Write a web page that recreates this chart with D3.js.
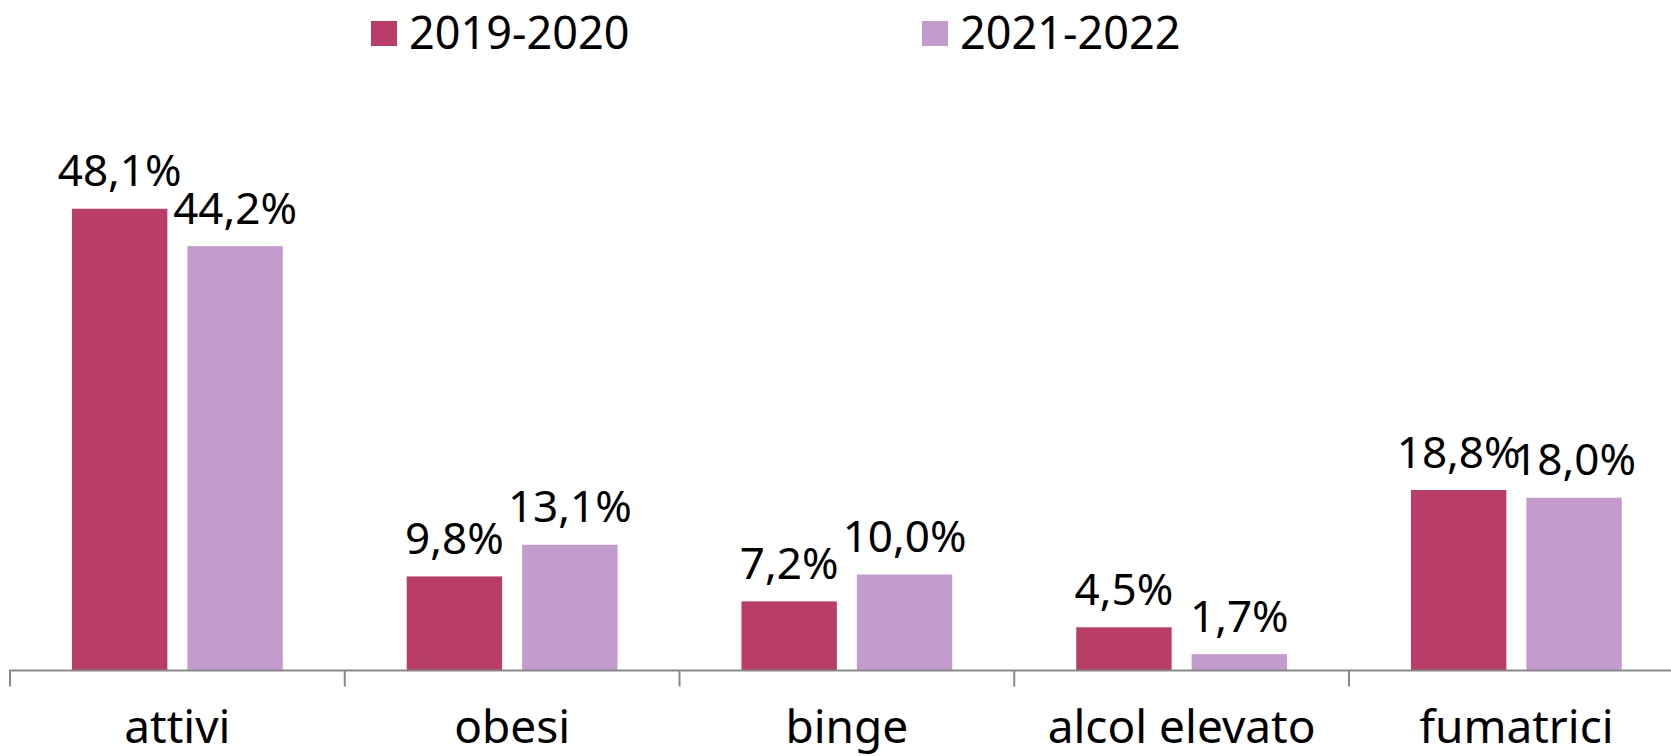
<!DOCTYPE html>
<html>
<head>
<meta charset="utf-8">
<script src="https://cdn.jsdelivr.net/npm/d3@7/dist/d3.min.js"></script>
<style>
  html, body { margin: 0; padding: 0; background: #fff; }
  svg { display: block; font-family: "Noto Sans", "Open Sans", sans-serif; }
</style>
</head>
<body>
<div id="chart"></div>
<script>
// dati
const categories = ['attivi', 'obesi', 'binge', 'alcol elevato', 'fumatrici'];
const seriesNames = ['2019-2020', '2021-2022'];
const values2019 = [48.1, 9.8, 7.2, 4.5, 18.8];
const values2021 = [44.2, 13.1, 10.0, 1.7, 18.0];
const seriesColors = ['#B93D68', '#C39BCC'];

const width = 1671, height = 756;

const svg = d3.select('#chart')
    .append('svg')
    .attr('width', width)
    .attr('height', height);

const rows = categories.map((c, i) => ({
    cat: c,
    vals: [values2019[i], values2021[i]]
}));

// scale
const x = d3.scaleBand()
    .domain(categories)
    .range([10, 10 + 5 * 334.75])
    .paddingInner(0)
    .paddingOuter(0);

const xs = d3.scaleBand()
    .domain(seriesNames)
    .range([0, x.bandwidth()])
    .paddingInner(0.1733)
    .paddingOuter(0.537);

const y = d3.scaleLinear()
    .domain([0, 50])
    .range([670.5, 190.5]);

// barre
const groups = svg.selectAll('g.cat')
    .data(rows)
    .enter()
    .append('g')
    .attr('class', 'cat')
    .attr('transform', d => `translate(${x(d.cat)},0)`);

groups.selectAll('rect')
    .data(d => d.vals.map((v, j) => ({s: seriesNames[j], v: v, j: j})))
    .enter()
    .append('rect')
    .attr('x', d => xs(d.s))
    .attr('y', d => y(d.v))
    .attr('width', xs.bandwidth())
    .attr('height', d => y(0) - y(d.v))
    .attr('fill', d => seriesColors[d.j]);

// etichette valori
groups.selectAll('text.val')
    .data(d => d.vals.map((v, j) => ({s: seriesNames[j], v: v})))
    .enter()
    .append('text')
    .attr('class', 'val')
    .attr('x', d => xs(d.s) + xs.bandwidth() / 2)
    .attr('y', d => y(d.v) - 22.5)
    .attr('text-anchor', 'middle')
    .attr('fill', '#000')
    .style('font-size', '44px')
    .text(d => d.v.toFixed(1).replace('.', ',') + '%');

// asse
const axisColor = '#898989';
svg.append('line')
    .attr('x1', 9)
    .attr('x2', width)
    .attr('y1', y(0))
    .attr('y2', y(0))
    .attr('stroke', axisColor)
    .attr('stroke-width', 2);

svg.selectAll('line.tick')
    .data(categories)
    .enter()
    .append('line')
    .attr('class', 'tick')
    .attr('x1', d => x(d))
    .attr('x2', d => x(d))
    .attr('y1', y(0))
    .attr('y2', y(0) + 16)
    .attr('stroke', axisColor)
    .attr('stroke-width', 2);

svg.selectAll('text.cat-label')
    .data(categories)
    .enter()
    .append('text')
    .attr('class', 'cat-label')
    .attr('x', d => x(d) + x.bandwidth() / 2)
    .attr('y', 743)
    .attr('text-anchor', 'middle')
    .attr('fill', '#000')
    .style('font-size', '46px')
    .text(d => d);

// legenda
const legendX = [371, 922];
const legend = svg.selectAll('g.legend')
    .data(seriesNames)
    .enter()
    .append('g')
    .attr('class', 'legend')
    .attr('transform', (d, i) => `translate(${legendX[i]},21)`);

legend.append('rect')
    .attr('width', 26)
    .attr('height', 25)
    .attr('fill', (d, i) => seriesColors[i]);

legend.append('text')
    .attr('x', 38)
    .attr('y', 28)
    .attr('fill', '#000')
    .style('font-size', '45px')
    .text(d => d);
</script>
</body>
</html>
